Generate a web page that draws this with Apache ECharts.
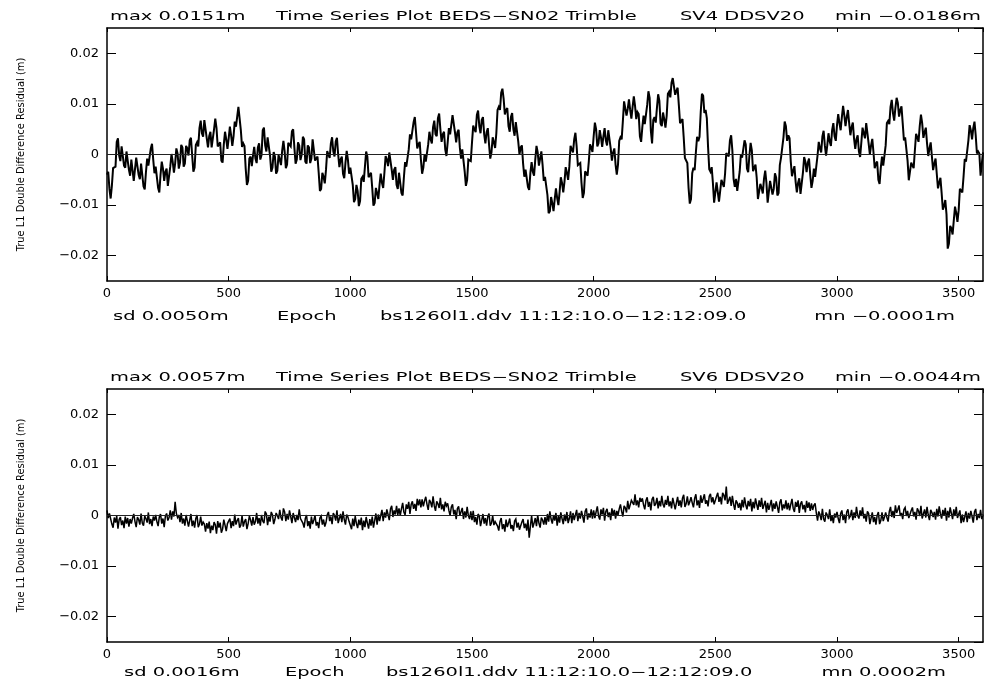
<!DOCTYPE html>
<html>
<head>
<meta charset="utf-8">
<script src="https://cdn.jsdelivr.net/npm/echarts@6/dist/echarts.min.js"></script>
<style>html,body{margin:0;padding:0;background:#fff}#chart{width:984px;height:682px}</style>
</head>
<body>
<div id="chart"></div>
<script>
// ---- data ----
// residuals sampled every 5 epochs, in units of 0.0001 m (one row = 100 epochs)
const epochStep = 5;
const sv4Residual = [
  -40,-34,-68,-87,-62,-27,-28,-24,25,32,-2,-13,16,19,-22,-26,6,8,-30,-42,
  -10,-11,-52,-51,-6,-3,-40,-49,-18,-20,-63,-69,-35,-8,-22,-25,12,21,-10,-37,
  -24,-25,-66,-75,-40,-14,-28,-52,-34,-28,-62,-65,-24,1,-14,-36,-18,12,2,-28,
  -16,19,14,-24,-18,17,12,-2,28,33,-2,-34,-26,19,24,16,52,67,42,35,
  68,70,32,14,36,45,14,12,50,71,52,16,20,24,-12,-16,20,45,30,11,
  32,55,38,17,36,65,55,54,94,91,48,15,22,17,-28,-60,-52,-8,-4,-23,
  -2,15,-8,-17,14,22,-10,-1,48,53,18,6,34,36,-2,-34,-26,5,-4,-38,
  -32,-1,-10,-21,8,27,6,-27,-20,23,26,16,46,50,14,-18,-10,24,18,-11,
  0,35,30,-14,-18,18,14,-17,-8,30,28,-12,-12,-4,-36,-72,-68,-36,-44,-57,
  -30,7,4,-7,22,34,6,-4,26,33,0,-25,-10,-4,-38,-47,-16,7,-10,-38,
  -26,-23,-60,-94,-88,-60,-72,-102,-92,-48,-44,-54,-24,6,-4,-45,-46,-36,-66,-101,
  -96,-66,-76,-88,-60,-38,-56,-66,-36,-3,-10,-23,4,7,-30,-50,-30,-25,-60,-68,
  -36,-36,-76,-81,-46,-15,-24,-27,10,40,30,27,64,74,44,12,20,25,-10,-38,
  -26,0,-14,-17,20,45,30,22,54,67,40,36,72,81,50,25,40,45,10,-3,
  24,52,40,39,78,81,44,24,44,49,14,-8,10,8,-34,-62,-50,-10,-10,-13,
  24,57,50,44,78,87,56,42,68,74,40,22,44,52,20,-8,4,34,24,13,
  42,88,94,88,122,130,110,79,88,92,56,45,74,82,50,37,64,65,26,0,
  14,18,-18,-44,-30,-27,-64,-70,-36,-15,-34,-42,-10,17,4,-22,-8,6,-20,-52,
  -44,-42,-80,-116,-112,-84,-96,-112,-88,-67,-86,-100,-74,-45,-56,-75,-54,-25,-36,-50,
  -24,17,18,4,30,43,16,-21,-18,-17,-56,-86,-76,-33,-30,-42,-14,20,14,5,
  36,63,50,16,22,48,34,15,36,52,28,18,48,50,12,-12,4,12,-20,-40,
  -20,27,34,30,66,105,104,77,90,109,88,71,94,115,96,70,84,80,36,25,
  54,77,60,59,98,125,112,47,22,68,74,63,92,119,106,61,56,83,70,53,
  76,120,124,113,142,151,150,118,126,132,98,62,66,70,34,-7,-8,-17,-66,-97,
  -88,-37,-26,-31,4,35,26,35,84,120,116,82,88,72,16,-29,-34,-25,-56,-95,
  -94,-55,-56,-93,-90,-50,-50,-64,-38,3,4,-4,28,38,8,-48,-64,-48,-72,-73,
  -34,0,-6,-9,28,20,-28,-35,-2,23,8,-33,-34,-20,-46,-88,-90,-58,-66,-77,
  -48,-32,-56,-95,-94,-52,-50,-79,-68,-37,-46,-81,-76,-21,-6,-6,34,65,56,27,
  38,32,-14,-43,-32,-23,-54,-75,-56,-47,-78,-77,-36,-5,-14,-35,-16,-8,-40,-66,
  -52,-28,-44,-43,-2,25,12,4,36,47,18,-2,18,42,26,17,48,62,36,27,
  58,80,62,48,74,96,78,56,74,88,62,38,54,63,32,11,30,38,6,-5,
  24,53,42,32,62,62,22,0,18,31,4,-27,-18,-14,-50,-58,-26,-4,-22,-22,
  18,62,66,60,94,108,82,67,92,112,102,75,88,95,62,28,34,31,-12,-51,
  -50,-16,-22,-27,8,41,34,25,56,79,62,33,44,53,22,-3,12,24,-4,-31,
  -18,-8,-38,-67,-56,-46,-76,-109,-102,-90,-118,-186,-176,-141,-146,-158,-130,-103,-116,-133,
  -110,-68,-66,-75,-44,-9,-14,-13,28,58,48,30,52,65,38,2,6,2,-42,-39,
  4
];
const sv6Residual = [
  10,-5,4,2,-17,-24,-4,-14,-1,-26,-8,-3,-19,-10,-25,-2,-16,-5,-22,-7,
  -16,-5,3,-12,-23,-3,-8,-18,4,-15,-20,-1,-6,-14,6,-17,-7,-21,-2,-10,
  1,-12,-21,-3,3,-16,-6,-23,-1,4,-10,-4,10,-8,8,-2,27,4,-4,1,
  -13,5,-16,-6,-20,1,-2,-22,-9,3,-21,-10,-24,-6,1,-23,-17,-2,-20,-13,
  -17,-32,-15,-26,-12,-35,-20,-29,-13,-18,-36,-11,-24,-14,-34,-27,-8,-19,-31,-16,
  -14,-6,-25,-11,-21,2,-18,-10,-5,-24,-19,0,-22,-12,-7,-27,-16,-1,-9,-20,
  -3,-18,-12,5,-16,-5,-20,1,-11,-15,8,3,-19,-2,-12,7,1,-17,-8,5,
  0,-7,11,-4,-10,14,7,-11,3,-8,10,-2,-15,5,8,-13,1,-9,12,-6,
  -4,-15,-24,-6,1,-21,-11,-26,-2,-17,-9,0,-20,-13,-25,-5,-1,-18,-8,-22,
  -14,1,7,-11,-2,-17,5,0,-10,10,-15,-6,3,-13,8,-8,-18,2,-3,-12,
  -12,-27,-6,-21,-1,-16,-25,-8,-19,-4,-29,-10,-23,-3,-15,-26,-7,-20,-2,-24,
  -10,4,-18,2,-11,0,11,-11,6,-4,12,2,-9,13,19,-3,10,2,19,1,
  14,0,13,25,7,1,22,13,27,3,22,28,13,23,9,33,20,32,16,32,
  18,29,37,22,11,31,26,16,38,19,9,28,23,15,35,12,22,8,27,19,
  24,10,0,17,22,2,11,-7,14,18,0,3,15,-7,8,-4,17,0,-7,8,
  -9,9,-13,-3,-18,3,-1,-21,-9,3,-16,-5,-20,-2,4,-20,-15,0,-19,-12,
  -10,-21,-30,-12,-5,-27,-17,-32,-8,-23,-15,-6,-26,-19,-31,-11,-7,-24,-14,-28,
  -28,-13,-7,-25,-16,-30,-8,-44,-21,0,-24,-15,-5,-21,1,-15,-24,-4,-9,-18,
  -3,-18,3,-12,8,-7,-16,1,-10,5,-20,-1,-14,6,-6,-17,2,-11,7,-15,
  -6,8,-15,5,-9,1,11,-11,5,-6,9,-2,-14,8,14,-8,4,-4,12,-6,
  10,-5,7,18,-1,-8,12,2,15,-10,8,13,-3,6,-9,14,0,11,-6,9,
  1,13,22,8,-2,19,15,6,29,12,9,30,27,21,42,20,30,16,35,27,
  34,21,12,30,36,17,27,10,32,37,19,23,35,14,29,18,39,22,16,31,
  21,39,18,28,14,35,32,12,25,37,19,30,16,34,41,17,23,38,20,27,
  36,25,16,34,42,20,30,15,40,25,33,42,23,30,18,38,43,26,36,22,
  23,38,45,27,37,22,45,40,30,57,23,30,37,19,39,22,11,30,25,15,
  25,10,31,16,36,21,12,29,18,33,8,27,14,34,22,11,30,17,35,13,
  15,29,6,25,11,21,31,8,24,13,28,17,5,26,32,10,22,14,30,12,
  25,10,22,33,14,7,27,17,30,5,23,28,12,21,6,29,15,26,9,24,
  11,20,24,5,-10,8,2,-9,13,-7,-12,6,1,-7,12,-11,-1,-15,4,-4,
  7,-6,-15,4,10,-9,2,-15,7,12,-5,-1,11,-9,6,-5,17,0,-6,10,
  -1,16,-6,3,-12,8,4,-17,-5,6,-13,-3,-18,0,7,-17,-10,6,-11,-3,
  6,-4,-12,8,17,-3,9,-5,20,5,12,20,-1,5,-7,12,16,-1,9,-5,
  -5,10,16,-2,7,-8,14,9,-1,19,-6,3,12,-4,17,1,-9,11,6,-3,
  7,-8,13,-2,18,3,-6,11,0,15,-10,9,-4,16,4,-7,12,-1,17,-5,
  -4,10,-15,2,-13,-3,8,-13,5,-6,9,-2,-14,7,13,-9,3,-5,11,-7,
  2
];
const epochRange = [0, 3600];
const epochTickStep = 500;
const residualRange = [-0.025, 0.025];
const yAxisTitle = 'True L1 Double Difference Residual (m)';
const panelTitles = [
  ['max 0.0151m', 'Time Series Plot BEDS\u2212SN02 Trimble', 'SV4 DDSV20', 'min \u22120.0186m'],
  ['max 0.0057m', 'Time Series Plot BEDS\u2212SN02 Trimble', 'SV6 DDSV20', 'min \u22120.0044m']
];
const panelFooters = [
  ['sd 0.0050m', 'Epoch', 'bs1260l1.ddv 11:12:10.0\u221212:12:09.0', 'mn \u22120.0001m'],
  ['sd 0.0016m', 'Epoch', 'bs1260l1.ddv 11:12:10.0\u221212:12:09.0', 'mn 0.0002m']
];

// ---- chart ----
const chart = echarts.init(document.getElementById('chart'), null, {renderer: 'canvas'});
const FONT = "'DejaVu Sans', Verdana, sans-serif";
const grids = [
  {left: 107, top: 28, width: 876, height: 253},
  {left: 107, top: 389, width: 876, height: 253}
];
const lineWidths = [2, 1.5];
function toPairs(arr) { return arr.map((v, i) => [i * epochStep, v / 10000]); }
function yFmt(v) {
  if (Math.abs(v) < 1e-9) return '0';
  return v.toFixed(2).replace('-', '\u2212');
}
const xAxes = [], yAxes = [], series = [];
[sv4Residual, sv6Residual].forEach((arr, g) => {
  xAxes.push({
    gridIndex: g, type: 'value', min: epochRange[0], max: epochRange[1], interval: epochTickStep,
    axisLine: {show: true, onZero: false, lineStyle: {color: '#000', width: 1.5}},
    axisTick: {show: true, inside: true, length: 5, lineStyle: {color: '#000', width: 1}},
    axisLabel: {show: true, margin: 6, color: '#000', fontSize: 13, fontFamily: FONT, showMaxLabel: false,
      formatter: v => String(v)},
    splitLine: {show: false}
  });
  xAxes.push({
    gridIndex: g, type: 'value', position: 'top', min: epochRange[0], max: epochRange[1], interval: epochTickStep,
    axisLine: {show: true, onZero: false, lineStyle: {color: '#000', width: 1.5}},
    axisTick: {show: true, inside: true, length: 4, lineStyle: {color: '#000', width: 1}},
    axisLabel: {show: false}, splitLine: {show: false}
  });
  yAxes.push({
    gridIndex: g, type: 'value', min: residualRange[0], max: residualRange[1], splitNumber: 5,
    name: yAxisTitle, nameLocation: 'middle', nameRotate: 90, nameGap: 80,
    nameTextStyle: {color: '#000', fontSize: 11, fontFamily: "'Liberation Sans Narrow', 'DejaVu Sans Condensed', sans-serif"},
    axisLine: {show: true, onZero: false, lineStyle: {color: '#000', width: 1.5}},
    axisTick: {show: true, inside: true, length: 9, lineStyle: {color: '#000', width: 1}},
    axisLabel: {show: true, margin: 8, color: '#000', fontSize: 13, fontFamily: FONT,
      showMinLabel: false, showMaxLabel: false, formatter: yFmt},
    splitLine: {show: false}
  });
  yAxes.push({
    gridIndex: g, type: 'value', position: 'right', min: residualRange[0], max: residualRange[1], splitNumber: 5,
    axisLine: {show: true, onZero: false, lineStyle: {color: '#000', width: 1.5}},
    axisTick: {show: true, inside: true, length: 9, lineStyle: {color: '#000', width: 1}},
    axisLabel: {show: false}, splitLine: {show: false}
  });
  series.push({
    type: 'line', xAxisIndex: g * 2, yAxisIndex: g * 2, data: toPairs(arr),
    showSymbol: false, symbol: 'none', sampling: null, smooth: false,
    lineStyle: {color: '#000', width: lineWidths[g], join: 'miter', miterLimit: 3}, silent: true,
    markLine: {silent: true, symbol: ['none', 'none'], label: {show: false},
      lineStyle: {color: '#222', width: 1, type: 'solid'}, data: [{yAxis: 0}]}
  });
});

function txt(str, x, y, align) {
  return {type: 'text', x: x, y: y, scaleX: 1.62, silent: true,
    style: {text: str, fill: '#000', fontSize: 12, fontFamily: FONT,
      align: align, textAlign: align, verticalAlign: 'middle', textVerticalAlign: 'middle'}};
}
const graphics = [];
const titleY = [17, 378], footY = [317, 673];
const titleX = [[110, 'left'], [276, 'left'], [680, 'left'], [981, 'right']];
const footX = [[[113, 'left'], [277, 'left'], [380, 'left'], [955, 'right']],
               [[124, 'left'], [285, 'left'], [386, 'left'], [946, 'right']]];
panelTitles.forEach((row, g) => row.forEach((s, k) => graphics.push(txt(s, titleX[k][0], titleY[g], titleX[k][1]))));
panelFooters.forEach((row, g) => row.forEach((s, k) => graphics.push(txt(s, footX[g][k][0], footY[g], footX[g][k][1]))));

chart.setOption({
  animation: false,
  backgroundColor: '#fff',
  grid: grids,
  xAxis: xAxes,
  yAxis: yAxes,
  series: series,
  graphic: graphics
});
</script>
</body>
</html>
